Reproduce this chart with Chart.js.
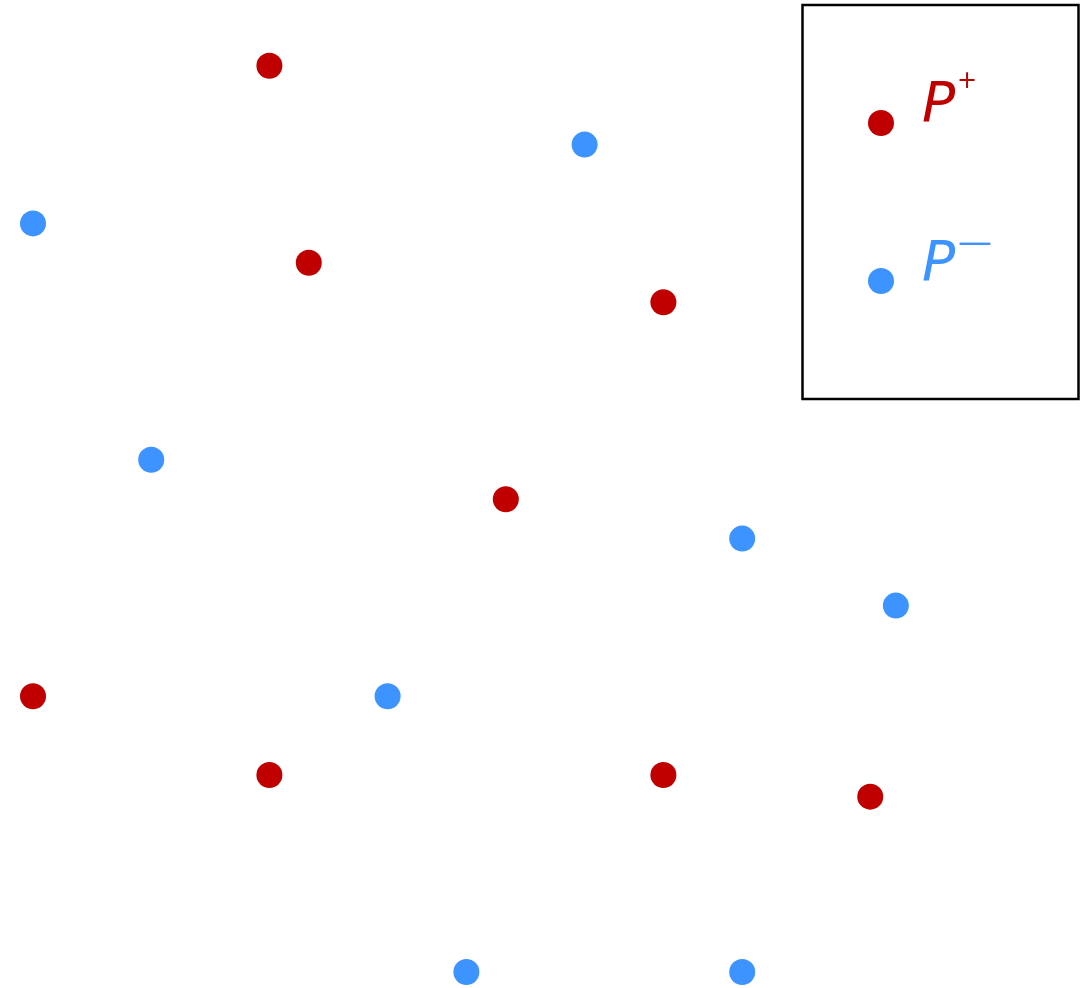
<!DOCTYPE html>
<html>
<head>
<meta charset="utf-8">
<script src="https://cdn.jsdelivr.net/npm/chart.js@4/dist/chart.umd.min.js"></script>
<style>
	html, body { margin: 0; padding: 0; background: #fff; }
	#wrap { width: 1091px; height: 988px; }
</style>
</head>
<body>
<div id="wrap"><canvas id="grafico" width="1091" height="988"></canvas></div>
<script>
// pontos P+ (vermelho)
const posX = [6, 7, 16, 12, 0, 6, 16, 21.25]
const posY = [23, 18, 17, 12, 7, 5, 5, 4.45]
// pontos P- (azul)
const negX = [0, 14, 3, 18, 21.9, 9, 11, 18]
const negY = [19, 21, 13, 11, 9.3, 7, 0, 0]

const labels = ["P", "P"]
const supers = ["+", "\u2014"]

const VERMELHO = "#c00000"
const AZUL = "#3d93ff"

function pontos(xs, ys) {
	var lista = []
	for (let i = 0; i < xs.length; i++) {
		lista.push({ x: xs[i], y: ys[i] })
	}
	return lista
}

// legenda desenhada dentro da area
var legendaBox = {
	id: "legendaBox",
	afterDraw(chart) {
		var ctx = chart.ctx
		ctx.save()
		ctx.lineWidth = 2.5
		ctx.strokeStyle = "#000"
		ctx.strokeRect(802.5, 5, 276, 394)

		var cores = [VERMELHO, AZUL]
		var pontosY = [123, 281]
		var bases = [121, 280]
		for (let i = 0; i < 2; i++) {
			ctx.fillStyle = cores[i]
			ctx.beginPath()
			ctx.arc(881, pontosY[i], 13, 0, Math.PI * 2)
			ctx.fill()

			ctx.textBaseline = "alphabetic"
			ctx.textAlign = "left"
			ctx.font = "oblique 55px 'DejaVu Sans'"
			ctx.fillText(labels[i], 922, bases[i])
			if (i == 0) {
				ctx.font = "24px 'DejaVu Sans'"
				ctx.fillText(supers[i], 957, 88)
			} else {
				ctx.font = "34px 'DejaVu Sans'"
				ctx.fillText(supers[i], 958, 253)
			}
		}
		ctx.restore()
	}
}

var config = {
	type: "scatter",
	data: {
		datasets: [
			{
				label: "P+",
				data: pontos(posX, posY),
				backgroundColor: VERMELHO,
				borderWidth: 0,
				pointRadius: 13,
			},
			{
				label: "P-",
				data: pontos(negX, negY),
				backgroundColor: AZUL,
				borderWidth: 0,
				pointRadius: 13,
			},
		],
	},
	options: {
		responsive: false,
		animation: false,
		devicePixelRatio: 1,
		layout: { padding: 0, autoPadding: false },
		clip: false,
		scales: {
			x: { type: "linear", display: false, min: -0.8376, max: 26.853 },
			y: { type: "linear", display: false, min: -0.406, max: 24.67 },
		},
		plugins: {
			legend: { display: false },
			tooltip: { enabled: false },
		},
	},
	plugins: [legendaBox],
}

var grafico = new Chart(document.getElementById("grafico"), config)
</script>
</body>
</html>
